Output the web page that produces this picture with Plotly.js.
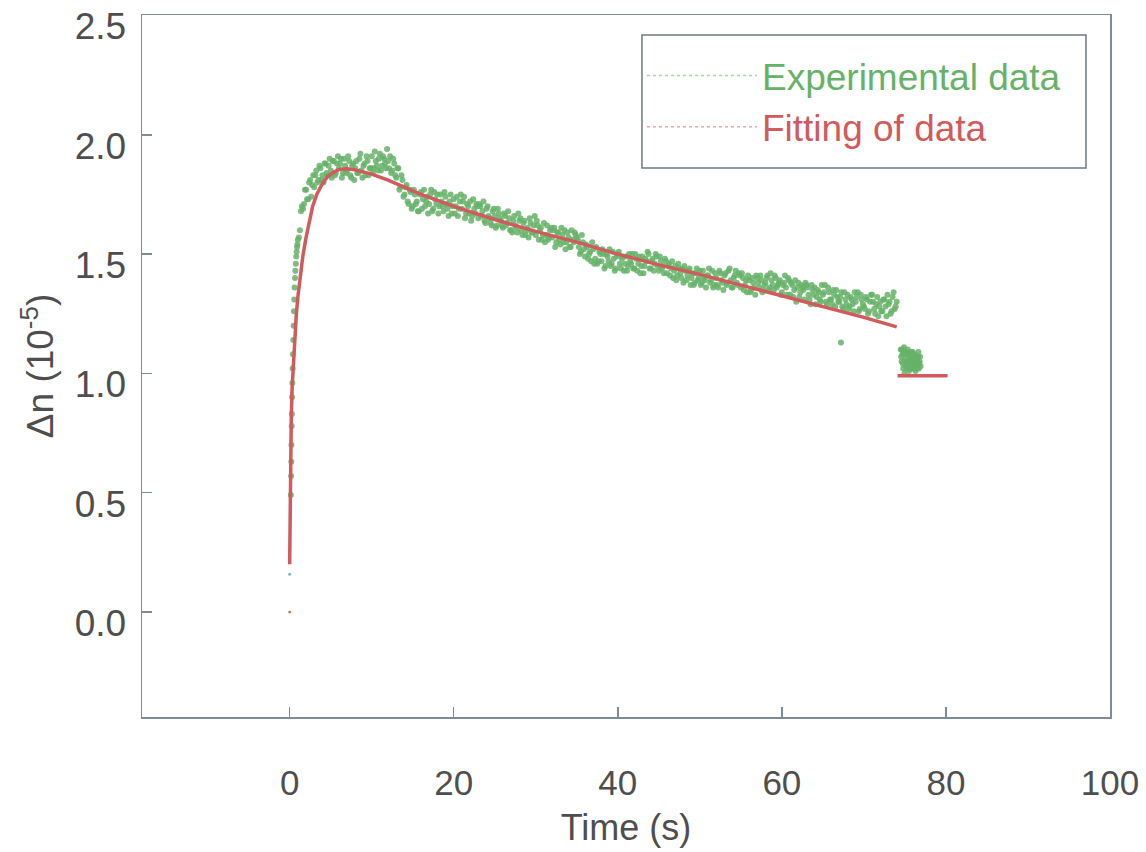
<!DOCTYPE html>
<html>
<head>
<meta charset="utf-8">
<script src="https://cdn.plot.ly/plotly-3.0.1.min.js"></script>
<style>html,body{margin:0;padding:0;background:#fff;}#chart{width:1146px;height:852px;}</style>
</head>
<body>
<div id="chart"></div>
<script>
// Experimental data, read set A: time (s) and Δn (10^-5)
const expT = [
0.15,0.18,0.2,0.22,0.25,0.27,0.3,0.33,0.36,0.4,0.44,0.48,0.52,0.56,0.6,0.65,0.7,0.75,0.8,0.85,0.9,0.95,
1,1.25,1.5,1.75, 2,2.25,2.5,2.75, 3,3.25,3.5,3.75, 4,4.25,4.5,4.75, 5,5.25,5.5,5.75,
6,6.25,6.5,6.75, 7,7.25,7.5,7.75, 8,8.25,8.5,8.75, 9,9.25,9.5,9.75, 10,10.25,10.5,10.75,
11,11.25,11.5,11.75, 12,12.25,12.5,12.75, 13,13.25,13.5,13.75, 14,14.25,14.5,14.75, 15,15.25,15.5,15.75,
16,16.25,16.5,16.75, 17,17.25,17.5,17.75, 18,18.25,18.5,18.75, 19,19.25,19.5,19.75, 20,20.25,20.5,20.75,
21,21.25,21.5,21.75, 22,22.25,22.5,22.75, 23,23.25,23.5,23.75, 24,24.25,24.5,24.75, 25,25.25,25.5,25.75,
26,26.25,26.5,26.75, 27,27.25,27.5,27.75, 28,28.25,28.5,28.75, 29,29.25,29.5,29.75, 30,30.25,30.5,30.75,
31,31.25,31.5,31.75, 32,32.25,32.5,32.75, 33,33.25,33.5,33.75, 34,34.25,34.5,34.75, 35,35.25,35.5,35.75,
36,36.25,36.5,36.75, 37,37.25,37.5,37.75, 38,38.25,38.5,38.75, 39,39.25,39.5,39.75, 40,40.25,40.5,40.75,
41,41.25,41.5,41.75, 42,42.25,42.5,42.75, 43,43.25,43.5,43.75, 44,44.25,44.5,44.75, 45,45.25,45.5,45.75,
46,46.25,46.5,46.75, 47,47.25,47.5,47.75, 48,48.25,48.5,48.75, 49,49.25,49.5,49.75, 50,50.25,50.5,50.75,
51,51.25,51.5,51.75, 52,52.25,52.5,52.75, 53,53.25,53.5,53.75, 54,54.25,54.5,54.75, 55,55.25,55.5,55.75,
56,56.25,56.5,56.75, 57,57.25,57.5,57.75, 58,58.25,58.5,58.75, 59,59.25,59.5,59.75, 60,60.25,60.5,60.75,
61,61.25,61.5,61.75, 62,62.25,62.5,62.75, 63,63.25,63.5,63.75, 64,64.25,64.5,64.75, 65,65.25,65.5,65.75,
66,66.25,66.5,66.75, 67,67.25,67.5,67.75, 68,68.25,68.5,68.75, 69,69.25,69.5,69.75, 70,70.25,70.5,70.75,
71,71.25,71.5,71.75, 72,72.25,72.5,72.75, 73,73.25,73.5,73.75, 74,
67.2,
74.5,74.6,74.7,74.8,74.9,75.0,75.1,75.2,75.3,75.4,75.5,75.6,75.7,75.8,75.9,76.0,76.1,76.2,76.3,76.4,76.5,76.6,76.7,76.8,76.9
];
const expV = [
0.49,0.57,0.63,0.70,0.78,0.83,0.90,0.96,1.02,1.08,1.14,1.20,1.26,1.31,1.36,1.40,1.43,1.46,1.49,1.51,1.53,1.54,
1.56,1.60,1.70,1.71, 1.77,1.73,1.81,1.79, 1.78,1.85,1.81,1.86, 1.83,1.88,1.84,1.87, 1.85,1.89,1.83,1.88,
1.86,1.90,1.84,1.87, 1.85,1.89,1.82,1.88, 1.86,1.84,1.90,1.85, 1.87,1.83,1.89,1.86, 1.91,1.86,1.89,1.85,
1.92,1.87,1.90,1.86, 1.89,1.91,1.85,1.88, 1.82,1.86,1.78,1.81, 1.75,1.79,1.71,1.76, 1.70,1.75,1.72,1.68,
1.76,1.73,1.70,1.74, 1.71,1.77,1.69,1.73, 1.75,1.70,1.72,1.68, 1.74,1.69,1.72,1.67, 1.73,1.70,1.66,1.72,
1.69,1.74,1.67,1.70, 1.72,1.66,1.69,1.71, 1.65,1.70,1.68,1.64, 1.69,1.66,1.63,1.68, 1.66,1.62,1.67,1.64,
1.61,1.66,1.63,1.65, 1.60,1.64,1.62,1.59, 1.64,1.60,1.63,1.58, 1.61,1.65,1.59,1.62, 1.58,1.62,1.60,1.56,
1.63,1.58,1.56,1.60, 1.57,1.61,1.55,1.59, 1.54,1.58,1.60,1.55, 1.57,1.53,1.56,1.59, 1.57,1.53,1.51,1.55,
1.49,1.53,1.50,1.47, 1.52,1.48,1.46,1.51, 1.47,1.50,1.45,1.49, 1.52,1.46,1.48,1.44, 1.50,1.46,1.48,1.43,
1.49,1.45,1.47,1.50, 1.44,1.48,1.46,1.42, 1.49,1.45,1.47,1.50, 1.44,1.48,1.46,1.49, 1.43,1.47,1.45,1.48,
1.42,1.46,1.44,1.40, 1.45,1.41,1.44,1.40, 1.38,1.43,1.41,1.44, 1.40,1.37,1.42,1.39, 1.43,1.38,1.40,1.36,
1.41,1.38,1.43,1.37, 1.40,1.36,1.42,1.38, 1.41,1.37,1.43,1.39, 1.36,1.41,1.38,1.42, 1.36,1.40,1.37,1.34,
1.39,1.35,1.38,1.33, 1.40,1.36,1.39,1.35, 1.38,1.41,1.36,1.39, 1.35,1.40,1.37,1.39, 1.34,1.38,1.36,1.40,
1.33,1.37,1.35,1.30, 1.38,1.34,1.36,1.31, 1.37,1.33,1.29,1.35, 1.36,1.32,1.34,1.30, 1.33,1.37,1.29,1.34,
1.31,1.35,1.28,1.32, 1.30,1.34,1.27,1.31, 1.33,1.28,1.31,1.26, 1.30,1.34,1.27,1.31, 1.28,1.32,1.25,1.30,
1.33,1.27,1.29,1.24, 1.30,1.26,1.31,1.24, 1.29,1.25,1.32,1.27, 1.30,
1.13,
1.10,1.05,1.08,1.02,1.11,1.06,1.03,1.09,1.05,1.08,1.01,1.07,1.04,1.09,1.02,1.06,1.04,1.08,1.01,1.05,1.03,1.07,1.02,1.05,1.03
];

// Experimental data, read set B (interleaved samples)
const expT2 = [
1.125,1.375,1.625,1.875, 2.125,2.375,2.625,2.875, 3.125,3.375,3.625,3.875, 4.125,4.375,4.625,4.875,
5.125,5.375,5.625,5.875, 6.125,6.375,6.625,6.875, 7.125,7.375,7.625,7.875, 8.125,8.375,8.625,8.875,
9.125,9.375,9.625,9.875, 10.125,10.375,10.625,10.875, 11.125,11.375,11.625,11.875, 12.125,12.375,12.625,12.875,
13.125,13.375,13.625,13.875, 14.125,14.375,14.625,14.875, 15.125,15.375,15.625,15.875, 16.125,16.375,16.625,16.875,
17.125,17.375,17.625,17.875, 18.125,18.375,18.625,18.875, 19.125,19.375,19.625,19.875, 20.125,20.375,20.625,20.875,
21.125,21.375,21.625,21.875, 22.125,22.375,22.625,22.875, 23.125,23.375,23.625,23.875, 24.125,24.375,24.625,24.875,
25.125,25.375,25.625,25.875, 26.125,26.375,26.625,26.875, 27.125,27.375,27.625,27.875, 28.125,28.375,28.625,28.875,
29.125,29.375,29.625,29.875, 30.125,30.375,30.625,30.875, 31.125,31.375,31.625,31.875, 32.125,32.375,32.625,32.875,
33.125,33.375,33.625,33.875, 34.125,34.375,34.625,34.875, 35.125,35.375,35.625,35.875, 36.125,36.375,36.625,36.875,
37.125,37.375,37.625,37.875, 38.125,38.375,38.625,38.875, 39.125,39.375,39.625,39.875, 40.125,40.375,40.625,40.875,
41.125,41.375,41.625,41.875, 42.125,42.375,42.625,42.875, 43.125,43.375,43.625,43.875, 44.125,44.375,44.625,44.875,
45.125,45.375,45.625,45.875, 46.125,46.375,46.625,46.875, 47.125,47.375,47.625,47.875, 48.125,48.375,48.625,48.875,
49.125,49.375,49.625,49.875, 50.125,50.375,50.625,50.875, 51.125,51.375,51.625,51.875, 52.125,52.375,52.625,52.875,
53.125,53.375,53.625,53.875, 54.125,54.375,54.625,54.875, 55.125,55.375,55.625,55.875, 56.125,56.375,56.625,56.875,
57.125,57.375,57.625,57.875, 58.125,58.375,58.625,58.875, 59.125,59.375,59.625,59.875, 60.125,60.375,60.625,60.875,
61.125,61.375,61.625,61.875, 62.125,62.375,62.625,62.875, 63.125,63.375,63.625,63.875, 64.125,64.375,64.625,64.875,
65.125,65.375,65.625,65.875, 66.125,66.375,66.625,66.875, 67.125,67.375,67.625,67.875, 68.125,68.375,68.625,68.875,
69.125,69.375,69.625,69.875, 70.125,70.375,70.625,70.875, 71.125,71.375,71.625,71.875, 72.125,72.375,72.625,72.875,
73.125,73.375,73.625,73.875,
74.55,74.65,74.75,74.85,74.95,75.05,75.15,75.25,75.35,75.45,75.55,75.65,75.75,75.85,75.95,76.05,76.15,76.25,76.35,76.45,76.55,76.65,76.75,76.85
];
const expV2 = [
1.57,1.68,1.69,1.77, 1.73,1.80,1.74,1.83, 1.83,1.80,1.87,1.81, 1.80,1.88,1.83,1.90,
1.82,1.89,1.84,1.91, 1.88,1.82,1.90,1.84, 1.91,1.83,1.87,1.81, 1.89,1.84,1.92,1.82,
1.88,1.91,1.83,1.86, 1.84,1.93,1.87,1.90, 1.85,1.91,1.88,1.94, 1.86,1.84,1.90,1.83,
1.86,1.77,1.83,1.74, 1.78,1.72,1.77,1.69, 1.77,1.71,1.68,1.75, 1.69,1.77,1.72,1.67,
1.75,1.68,1.76,1.71, 1.67,1.75,1.70,1.76, 1.71,1.66,1.75,1.70, 1.67,1.74,1.69,1.75,
1.72,1.65,1.71,1.67, 1.64,1.73,1.67,1.70, 1.71,1.66,1.72,1.63, 1.70,1.65,1.62,1.69,
1.61,1.69,1.65,1.62, 1.67,1.62,1.68,1.60, 1.59,1.66,1.61,1.67, 1.65,1.58,1.64,1.60,
1.57,1.63,1.59,1.66, 1.64,1.56,1.61,1.58, 1.55,1.62,1.57,1.61, 1.60,1.53,1.59,1.56,
1.61,1.55,1.52,1.59, 1.53,1.60,1.55,1.58, 1.56,1.50,1.58,1.52, 1.54,1.48,1.51,1.55,
1.46,1.53,1.47,1.50, 1.52,1.44,1.50,1.47, 1.45,1.51,1.43,1.49, 1.51,1.44,1.49,1.46,
1.43,1.50,1.46,1.44, 1.50,1.43,1.49,1.45, 1.42,1.48,1.51,1.44, 1.47,1.43,1.50,1.45,
1.49,1.44,1.42,1.47, 1.45,1.41,1.47,1.43, 1.39,1.46,1.42,1.44, 1.45,1.39,1.43,1.37,
1.42,1.38,1.44,1.40, 1.37,1.43,1.39,1.41, 1.44,1.39,1.36,1.42, 1.37,1.43,1.39,1.35,
1.42,1.38,1.44,1.36, 1.40,1.43,1.37,1.41, 1.42,1.35,1.39,1.41, 1.34,1.40,1.36,1.41,
1.38,1.41,1.34,1.37, 1.40,1.35,1.42,1.37, 1.41,1.36,1.38,1.33, 1.37,1.41,1.33,1.39,
1.38,1.32,1.39,1.36, 1.32,1.37,1.35,1.38, 1.36,1.31,1.37,1.33, 1.29,1.35,1.31,1.37,
1.34,1.30,1.36,1.31, 1.29,1.33,1.35,1.30, 1.32,1.28,1.34,1.29, 1.27,1.32,1.29,1.34,
1.32,1.26,1.33,1.29, 1.27,1.31,1.26,1.33, 1.30,1.25,1.32,1.28, 1.26,1.31,1.28,1.33,
1.30,1.26,1.34,1.28,
1.07,1.10,1.04,1.09,1.00,1.08,1.05,1.02,1.10,1.04,1.06,1.02,1.08,1.05,1.09,1.02,1.06,1.03,1.07,1.02,1.05,1.09,1.04,1.07
];

// Fitted curve (null separates the final flat segment)
const fitT = [0,0.05,0.1,0.2,0.3,0.45,0.6,0.8,1.0,1.3,1.6,2.0,2.4,2.8,3.3,3.9,4.5,5.2,6.0,7.0,8.0,9.0,10,12,14,16,18,20,25,30,35,40,45,50,55,60,65,70,74,null,74.1,80.2];
const fitV = [0.2,0.45,0.62,0.82,0.94,1.05,1.13,1.24,1.32,1.41,1.49,1.57,1.64,1.70,1.75,1.79,1.82,1.84,1.855,1.858,1.853,1.845,1.835,1.81,1.78,1.75,1.725,1.70,1.645,1.595,1.55,1.50,1.455,1.415,1.37,1.325,1.28,1.235,1.195,null,0.99,0.99];

// Isolated points at t = 0
const startT = [0, 0];
const startV = [0.158, 0.0];
const startColors = ['#86b4b4', '#e07a55'];

const seriesNames = ['Experimental data', 'Fitting of data'];
const seriesColors = ['#66b268', '#d05a5c'];
const xTicks = [0, 20, 40, 60, 80, 100];
const yTicks = [0.0, 0.5, 1.0, 1.5, 2.0, 2.5];

const axisColor = '#7d8c96';
const textColor = '#4e4e4e';
const fontFam = 'Liberation Sans, Arial, sans-serif';

const expMarker = {color: seriesColors[0], size: 6, opacity: 0.85, line: {width: 0}};

const traces = [
  {x: expT, y: expV, type: 'scatter', mode: 'markers', showlegend: false, marker: expMarker},
  {x: expT2, y: expV2, type: 'scatter', mode: 'markers', showlegend: false, marker: expMarker},
  {x: fitT, y: fitV, type: 'scatter', mode: 'lines', showlegend: false,
   line: {color: seriesColors[1], width: 3.5}},
  {x: startT, y: startV, type: 'scatter', mode: 'markers', showlegend: false,
   marker: {color: startColors, size: 3}},
  {x: [null], y: [null], type: 'scatter', mode: 'lines',
   name: '<span style="color:' + seriesColors[0] + '">' + seriesNames[0] + '</span>',
   line: {color: '#a9d4b0', width: 1.5, dash: 'dot'}},
  {x: [null], y: [null], type: 'scatter', mode: 'lines',
   name: '<span style="color:' + seriesColors[1] + '">' + seriesNames[1] + '</span>',
   line: {color: '#e0a8a8', width: 1.5, dash: 'dot'}}
];

const layout = {
  width: 1146, height: 852,
  margin: {l: 142, r: 36, t: 15, b: 135},
  paper_bgcolor: '#ffffff', plot_bgcolor: '#ffffff',
  font: {family: fontFam, color: textColor},
  showlegend: true,
  legend: {
    x: 0.5165, y: 0.9573, xanchor: 'left', yanchor: 'top',
    borderwidth: 0, bgcolor: 'rgba(0,0,0,0)',
    font: {size: 37, family: fontFam},
    itemwidth: 110
  },
  shapes: [{
    type: 'rect', xref: 'paper', yref: 'paper',
    x0: 0.5165, x1: 0.9752, y0: 0.7821, y1: 0.9715,
    line: {color: '#6f7a80', width: 1.5}, fillcolor: '#ffffff', layer: 'below'
  }],
  xaxis: {
    range: [-18, 100.001], tickmode: 'array', tickvals: xTicks, ticktext: xTicks.map(String),
    ticks: 'inside', ticklen: 10, tickcolor: axisColor, tickwidth: 1.5,
    showline: true, linecolor: axisColor, linewidth: 1.5, mirror: true,
    showgrid: false, zeroline: false, ticklabeloverflow: 'allow',
    tickfont: {size: 35, color: textColor}, ticklabelstandoff: 34,
    title: {text: 'Time (s)', font: {size: 36, color: textColor}, standoff: 14}
  },
  yaxis: {
    range: [-0.44, 2.502], tickmode: 'array', tickvals: yTicks, ticktext: yTicks.map(v => v.toFixed(1)),
    ticks: 'inside', ticklen: 10, tickcolor: axisColor, tickwidth: 1.5,
    showline: true, linecolor: axisColor, linewidth: 1.5, mirror: true,
    showgrid: false, zeroline: false, ticklabeloverflow: 'allow',
    tickfont: {size: 37, color: textColor}, ticklabelstandoff: 7, ticklabelshift: 11,
    title: {text: '\u0394n (10<sup>-5</sup>)', font: {size: 37, color: textColor}, standoff: 9}
  }
};

Plotly.newPlot('chart', traces, layout, {displayModeBar: false, staticPlot: true});
</script>
</body>
</html>
